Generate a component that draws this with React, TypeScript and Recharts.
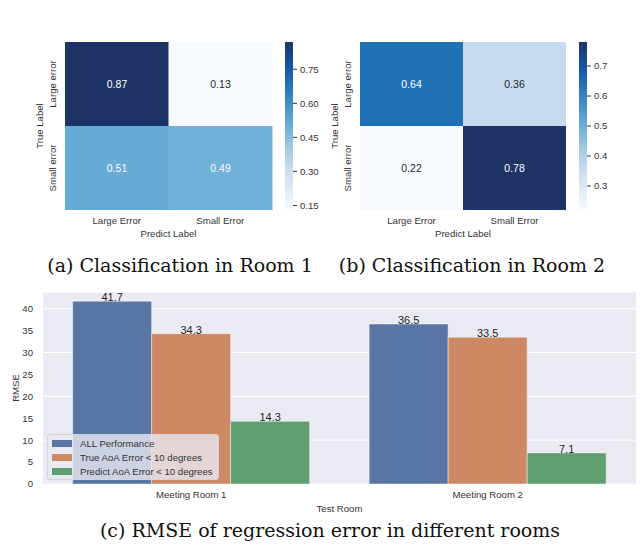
import React from 'react';
import { BarChart, Bar, XAxis, YAxis, CartesianGrid, Legend, LabelList, Cell } from 'recharts';

// confusion matrices (rows = true label, columns = predicted label)
const predictLabels = ['Large Error', 'Small Error'];
const trueLabels = ['Large error', 'Small error'];
const room1LargeRow = [0.87, 0.13];
const room1SmallRow = [0.51, 0.49];
const room2LargeRow = [0.64, 0.36];
const room2SmallRow = [0.22, 0.78];
const room1Ticks = [0.15, 0.3, 0.45, 0.6, 0.75];
const room2Ticks = [0.3, 0.4, 0.5, 0.6, 0.7];

// regression error
const rooms = ['Meeting Room 1', 'Meeting Room 2'];
const allPerformance = [41.7, 36.5];
const trueAoa = [34.3, 33.5];
const predictAoa = [14.3, 7.1];
const rmseTicks = [0, 5, 10, 15, 20, 25, 30, 35, 40];
const seriesNames = ['ALL Performance', 'True AoA Error < 10 degrees', 'Predict AoA Error < 10 degrees'];
const seriesColors = ['#5975a4', '#cc8963', '#5f9e6e'];

const TEXT = '#333333';
const SANS = '"Liberation Sans", Arial, sans-serif';
const FS = 9.6;
const BLUES = ['#f7fbff', '#deebf7', '#c6dbef', '#9ecae1', '#6baed6', '#4292c6', '#2171b5', '#15509a', '#1f3466'];

const hexToRgb = (h: string) => [1, 3, 5].map(i => parseInt(h.slice(i, i + 2), 16));
const blues = (t: number) => {
    const c = Math.max(0, Math.min(1, t)) * (BLUES.length - 1);
    const i = Math.min(Math.floor(c), BLUES.length - 2);
    const f = c - i;
    const a = hexToRgb(BLUES[i]);
    const b = hexToRgb(BLUES[i + 1]);
    const rgb = a.map((v, k) => Math.round(v + (b[k] - v) * f));
    return `rgb(${rgb.join(',')})`;
};

const RowTick = (props: any) => {
    const { x, y, payload } = props;
    const label = payload.value < 1 ? trueLabels[1] : trueLabels[0];
    const tx = x - 12;
    return (
        <text x={tx} y={y} dy="0.35em" textAnchor="middle" fontSize={FS} fill={TEXT} fontFamily={SANS}
            transform={`rotate(-90 ${tx} ${y})`}>
            {label}
        </text>
    );
};

interface HeatmapProps {
    left: number;
    marginLeft: number;
    marginRight: number;
    large: number[];
    small: number[];
}

const Heatmap: React.FC<HeatmapProps> = ({ left, marginLeft, marginRight, large, small }) => {
    const data = predictLabels.map((p, i) => ({ pred: p, large: large[i], small: small[i] }));
    const all = [...large, ...small];
    const min = Math.min(...all);
    const max = Math.max(...all);
    const norm = (v: number) => (v - min) / (max - min);
    const cellLabel = (props: any) => {
        const vb = props.viewBox || props;
        const v = Number(props.value);
        return (
            <text x={vb.x + vb.width / 2} y={vb.y + vb.height / 2} dy="0.35em" textAnchor="middle"
                fontSize={10.5} fontFamily={SANS} fill={norm(v) > 0.4 ? '#ffffff' : '#262626'}>
                {v.toFixed(2)}
            </text>
        );
    };
    return (
        <div style={{ position: 'absolute', left, top: 0 }}>
            <BarChart width={300} height={250} data={data} barCategoryGap={0} barGap={0}
                margin={{ top: 42, right: marginRight, left: marginLeft, bottom: 0 }}>
                <XAxis dataKey="pred" type="category" height={40} axisLine={false} tickLine={false} tickSize={0}
                    tickMargin={7} tick={{ fontSize: FS, fill: TEXT, fontFamily: SANS }}
                    label={{ value: 'Predict Label', position: 'insideBottom', offset: 13, fontSize: FS, fill: TEXT, fontFamily: SANS }} />
                <YAxis type="number" domain={[0, 2]} ticks={[0.5, 1.5]} width={35} axisLine={false} tickLine={false}
                    tickSize={0} tickMargin={0} tick={<RowTick />}
                    label={{ value: 'True Label', angle: -90, position: 'insideLeft', offset: 10, fontSize: FS, fill: TEXT, fontFamily: SANS, style: { textAnchor: 'middle' } }} />
                <Bar dataKey={() => 1} stackId="m" isAnimationActive={false}>
                    {data.map((d, i) => <Cell key={`s-${i}`} fill={blues(norm(d.small))} />)}
                    <LabelList dataKey="small" content={cellLabel} />
                </Bar>
                <Bar dataKey={() => 1} stackId="m" isAnimationActive={false}>
                    {data.map((d, i) => <Cell key={`l-${i}`} fill={blues(norm(d.large))} />)}
                    <LabelList dataKey="large" content={cellLabel} />
                </Bar>
            </BarChart>
        </div>
    );
};

interface ColorbarProps {
    id: string;
    left: number;
    width: number;
    min: number;
    max: number;
    ticks: number[];
    digits: number;
}

const Colorbar: React.FC<ColorbarProps> = ({ id, left, width, min, max, ticks, digits }) => {
    const data = [{ name: 'cb', range: [min, max] }];
    const stops = BLUES.map((_, i) => i / (BLUES.length - 1));
    return (
        <div style={{ position: 'absolute', left, top: 0 }}>
            <BarChart width={width} height={250} data={data} barCategoryGap={0}
                margin={{ top: 42, right: 0, left: 5, bottom: 40 }}>
                <defs>
                    <linearGradient id={id} x1="0" y1="0" x2="0" y2="1">
                        {stops.map((s, i) => (
                            <stop key={i} offset={`${s * 100}%`} stopColor={BLUES[BLUES.length - 1 - i]} />
                        ))}
                    </linearGradient>
                </defs>
                <XAxis dataKey="name" hide />
                <YAxis orientation="right" type="number" domain={[min, max]} ticks={ticks} width={width - 13}
                    axisLine={false} tickSize={4} tickMargin={3} stroke={TEXT}
                    tick={{ fontSize: FS, fill: TEXT, fontFamily: SANS }}
                    tickFormatter={(v: number) => v.toFixed(digits)} />
                <Bar dataKey="range" fill={`url(#${id})`} isAnimationActive={false} />
            </BarChart>
        </div>
    );
};

const rmseData = rooms.map((r, i) => ({ room: r, all: allPerformance[i], trueAoa: trueAoa[i], pred: predictAoa[i] }));

const renderLegend = (props: any) => {
    const payload = [...(props.payload || [])].sort(
        (a: any, b: any) => seriesNames.indexOf(a.value) - seriesNames.indexOf(b.value));
    return (
        <div style={{
            background: 'rgba(234,234,242,0.8)', border: '1px solid #d2d2da', borderRadius: 3,
            padding: '1px 0 1px 4px', boxSizing: 'border-box', width: 172, fontFamily: SANS, fontSize: FS, color: TEXT,
            whiteSpace: 'nowrap',
        }}>
            {payload.map((p: any, i: number) => {
                const k = seriesNames.indexOf(p.value);
                return (
                    <div key={i} style={{ display: 'flex', alignItems: 'center', height: 14 }}>
                        <span style={{ width: 20, height: 7, background: seriesColors[k >= 0 ? k : i], marginRight: 8, display: 'inline-block', flexShrink: 0 }} />
                        <span>{p.value}</span>
                    </div>
                );
            })}
        </div>
    );
};

const valueLabel = { position: 'top' as const, offset: 0, fontSize: 11, fill: '#262626', fontFamily: SANS };

const RmseChart: React.FC = () => (
    <div style={{ position: 'absolute', left: 0, top: 280 }}>
        <BarChart width={641} height={270} data={rmseData} barCategoryGap="10%" barGap={0}
            margin={{ top: 12, right: 5, left: 10, bottom: 36 }}>
            <CartesianGrid vertical={false} stroke="#ffffff" fill="#eaeaf2" />
            <XAxis dataKey="room" height={30} axisLine={false} tickLine={false} tickSize={0} tickMargin={7}
                tick={{ fontSize: FS, fill: TEXT, fontFamily: SANS }}
                label={{ value: 'Test Room', position: 'insideBottom', offset: 2, fontSize: FS, fill: TEXT, fontFamily: SANS }} />
            <YAxis type="number" domain={[0, 43.8]} ticks={rmseTicks} width={33} axisLine={false} tickLine={false}
                tickSize={0} tickMargin={10} tick={{ fontSize: FS, fill: TEXT, fontFamily: SANS }}
                label={{ value: 'RMSE', angle: -90, position: 'insideLeft', offset: 6, fontSize: FS, fill: TEXT, fontFamily: SANS, style: { textAnchor: 'middle' } }} />
            <Legend layout="horizontal" verticalAlign="middle" align="center" content={renderLegend}
                wrapperStyle={{ position: 'absolute', left: 47, top: 154, width: 172 }} />
            <Bar dataKey="all" name={seriesNames[0]} fill={seriesColors[0]} stroke="#ffffff" strokeOpacity={0.6} strokeWidth={0.8} isAnimationActive={false}>
                <LabelList dataKey="all" {...valueLabel} />
            </Bar>
            <Bar dataKey="trueAoa" name={seriesNames[1]} fill={seriesColors[1]} stroke="#ffffff" strokeOpacity={0.6} strokeWidth={0.8} isAnimationActive={false}>
                <LabelList dataKey="trueAoa" {...valueLabel} />
            </Bar>
            <Bar dataKey="pred" name={seriesNames[2]} fill={seriesColors[2]} stroke="#ffffff" strokeOpacity={0.6} strokeWidth={0.8} isAnimationActive={false}>
                <LabelList dataKey="pred" {...valueLabel} />
            </Bar>
        </BarChart>
    </div>
);

const captionStyle: React.CSSProperties = {
    position: 'absolute', textAlign: 'center', fontFamily: '"DejaVu Serif", serif', fontSize: 19,
    color: '#111', whiteSpace: 'nowrap', lineHeight: '22px',
};

const App: React.FC = () => {
    const r1 = [...room1LargeRow, ...room1SmallRow];
    const r2 = [...room2LargeRow, ...room2SmallRow];
    return (
        <div style={{ position: 'absolute', left: 0, top: 0, width: 641, height: 550, background: '#fff', overflow: 'hidden' }}>
            <Heatmap left={0} marginLeft={30} marginRight={28} large={room1LargeRow} small={room1SmallRow} />
            <Colorbar id="cb1" left={280} width={50} min={Math.min(...r1)} max={Math.max(...r1)} ticks={room1Ticks} digits={2} />
            <Heatmap left={300} marginLeft={25} marginRight={34} large={room2LargeRow} small={room2SmallRow} />
            <Colorbar id="cb2" left={574} width={67} min={Math.min(...r2)} max={Math.max(...r2)} ticks={room2Ticks} digits={1} />
            <div style={{ ...captionStyle, left: 0, width: 360, top: 254 }}>(a) Classification in Room 1</div>
            <div style={{ ...captionStyle, left: 322, width: 300, top: 254 }}>(b) Classification in Room 2</div>
            <RmseChart />
            <div style={{ ...captionStyle, left: 30, width: 600, top: 519 }}>(c) RMSE of regression error in different rooms</div>
        </div>
    );
};

export default App;
